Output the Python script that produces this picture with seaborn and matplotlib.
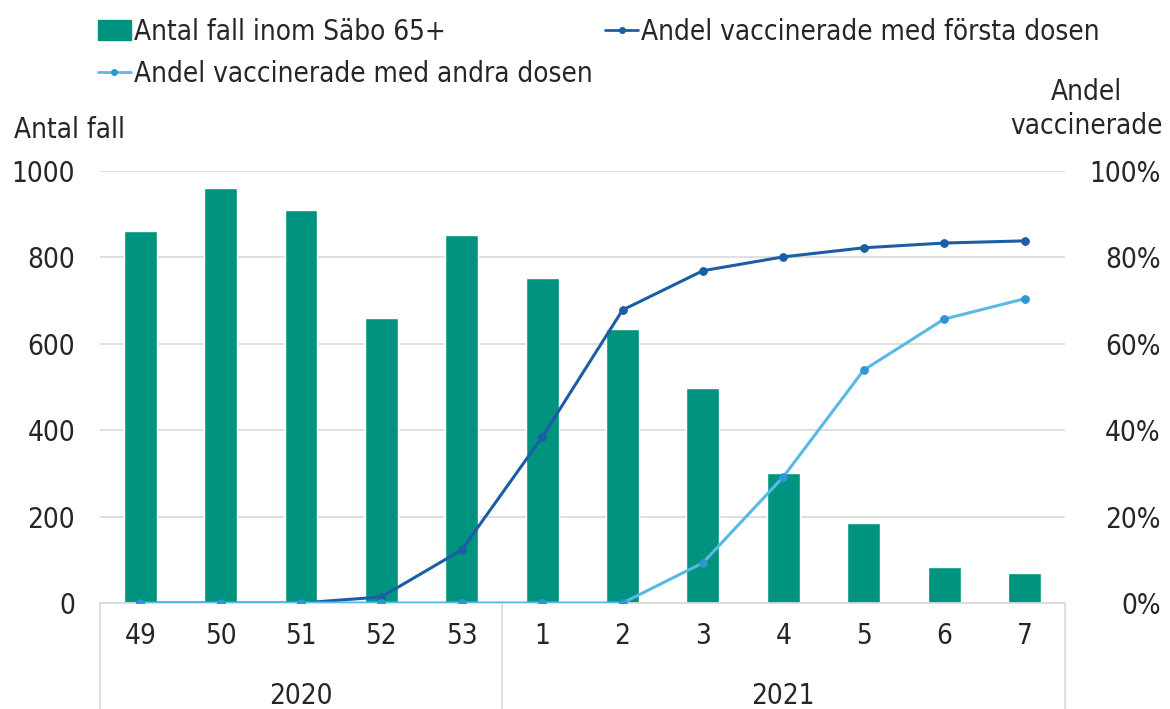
import numpy as np
import pandas as pd
import matplotlib
matplotlib.use("Agg")
import matplotlib.pyplot as plt
import matplotlib.transforms as mtransforms
from matplotlib.lines import Line2D
from matplotlib.patches import Patch
import seaborn as sns

# ---- data ----
weeks = ["49", "50", "51", "52", "53", "1", "2", "3", "4", "5", "6", "7"]
years = ["2020", "2021"]
year_sizes = [5, 7]
cases = [861, 960, 910, 660, 852, 752, 634, 498, 301, 185, 83, 69]
dose1 = [0.0, 0.0, 0.0, 1.4, 12.3, 38.4, 67.8, 76.9, 80.1, 82.2, 83.3, 83.8]
dose2 = [0.0, 0.0, 0.0, 0.0, 0.0, 0.0, 0.0, 9.3, 29.2, 53.9, 65.7, 70.4]

teal = "#00937f"
dark_blue = "#1b5ea6"
light_blue = "#58b9e4"
light_marker = "#2c97d0"
grid_col = "#d9d9d9"

sns.set_style("white")
plt.rcParams["font.family"] = ["DejaVu Sans"]
plt.rcParams["font.stretch"] = "condensed"
FS = 20

df = pd.DataFrame({"week": weeks, "cases": cases, "pos": np.arange(len(weeks)),
                   "dose1": dose1, "dose2": dose2})

fig = plt.figure(figsize=(11.7, 7.09), dpi=100)
ax = fig.add_axes([0.0855, 0.1495, 0.8245, 0.6095])

sns.barplot(data=df, x="week", y="cases", color=teal, width=0.41,
            saturation=1, ax=ax, zorder=2)
ax.set_ylim(0, 1000)
ax.set_xlim(-0.5, len(weeks) - 0.5)
ax.set_yticks(range(0, 1001, 200))
ax.yaxis.grid(True, color=grid_col, linewidth=1.2, zorder=0)
ax.set_axisbelow(True)
for s in ["top", "right", "left"]:
    ax.spines[s].set_visible(False)
ax.spines["bottom"].set_color(grid_col)
ax.spines["bottom"].set_linewidth(1.2)
ax.tick_params(axis="y", length=0, pad=18, labelsize=FS)
ax.tick_params(axis="x", length=0, pad=14, labelsize=FS)
ax.set_xlabel("")
ax.set_ylabel("")

ax2 = ax.twinx()
sns.lineplot(data=df, x="pos", y="dose1", color=dark_blue, linewidth=2.2,
             marker="o", markersize=5.5, markeredgecolor=dark_blue, ax=ax2, zorder=3)
sns.lineplot(data=df, x="pos", y="dose2", color=light_blue, linewidth=2.2,
             marker="o", markersize=5.5, markerfacecolor=light_marker,
             markeredgecolor=light_marker, ax=ax2, zorder=4)
ax2.set_ylim(0, 100)
ax2.set_xlim(-0.5, len(weeks) - 0.5)
ax2.set_yticks(range(0, 101, 20))
ax2.set_yticklabels([f"{v}%" for v in range(0, 101, 20)])
ax2.tick_params(axis="y", length=0, pad=69, labelsize=FS)
for lab in ax2.get_yticklabels():
    lab.set_horizontalalignment("right")
for s in ax2.spines.values():
    s.set_visible(False)
ax2.set_xlabel("")
ax2.set_ylabel("")

# year grouping under the week labels
trans = mtransforms.blended_transform_factory(ax.transData, ax.transAxes)
edges = np.concatenate([[0], np.cumsum(year_sizes)]) - 0.5
for e in edges:
    ax.add_line(Line2D([e, e], [0, -0.26], transform=trans, color=grid_col,
                       linewidth=1.2, clip_on=False))
for i, yr in enumerate(years):
    mid = (edges[i] + edges[i + 1]) / 2
    ax.text(mid, -0.215, yr, transform=trans, ha="center", va="center", fontsize=FS)

# axis titles
fig.text(0.012, 0.816, "Antal fall", ha="left", va="center", fontsize=FS)
fig.text(0.994, 0.846, "Andel\nvaccinerade", ha="right", va="center",
         multialignment="center", fontsize=FS, linespacing=1.25)

# legend
handles = [Patch(color=teal),
           Line2D([], [], color=dark_blue, marker="o", markersize=4, linewidth=2),
           Line2D([], [], color=light_blue, marker="o", markersize=4, linewidth=2,
                  markerfacecolor=light_marker, markeredgecolor=light_marker)]
labels = ["Antal fall inom Säbo 65+", "Andel vaccinerade med första dosen",
          "Andel vaccinerade med andra dosen"]
order = [0, 2, 1]
fig.legend([handles[i] for i in order], [labels[i] for i in order], ncol=2,
           loc="upper left", bbox_to_anchor=(0.062, 1.01), frameon=False,
           fontsize=FS, handlelength=1.2, handletextpad=0.1, columnspacing=0.45,
           labelspacing=0.5)

fig.savefig("out.png", dpi=100)
